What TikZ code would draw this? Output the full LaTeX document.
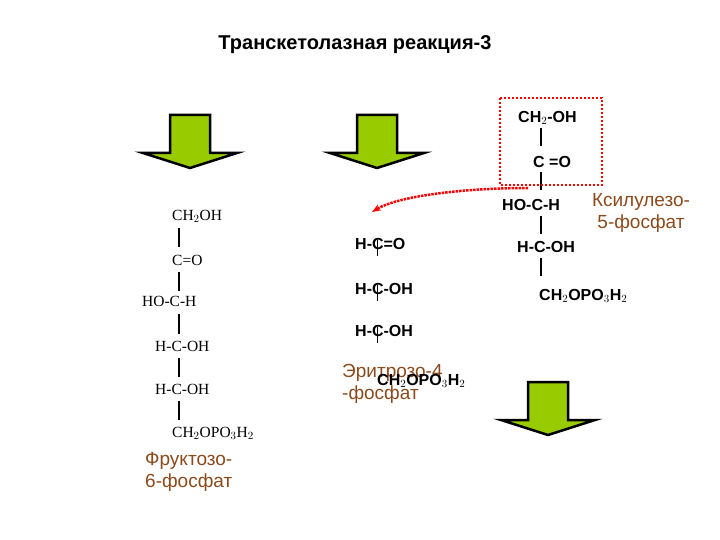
\documentclass[tikz,border=0pt]{standalone}
\usepackage{fontspec}
\usetikzlibrary{arrows.meta}
\setmainfont{Liberation Sans}
\newfontfamily\serif{Liberation Serif}
\definecolor{lime}{HTML}{99CC00}
\definecolor{nmcol}{HTML}{8B4A1C}
\begin{document}
\begin{tikzpicture}[x=1pt,y=-1pt,
  sf/.style={font=\fontsize{16}{18}\selectfont\bfseries,inner sep=0,anchor=west},
  lf/.style={font=\serif\fontsize{15.5}{18}\selectfont,inner sep=0,anchor=west},
  nm/.style={font=\fontsize{19}{22}\selectfont,text=nmcol,inner sep=0,align=left},
  bar/.style={line width=1.2pt},
  garrow/.style={fill=lime,draw=black,line width=2.5pt}]
\useasboundingbox (0,0) rectangle (720,540);
\node[font=\fontsize{20}{23}\selectfont\bfseries] (t) at (355,45) {Транскетолазная реакция-3};
% green arrows
\foreach \n/\cx/\ty in {a1/190/115,a2/377/115,a3/548/382}{
  \draw[garrow] (\cx-20,\ty) -- (\cx+20,\ty) -- (\cx+20,\ty+38) -- (\cx+47,\ty+38) -- (\cx,\ty+53) -- (\cx-47,\ty+38) -- (\cx-20,\ty+38) -- cycle;
}
% left column
\node[lf] (l1) at (172,216) {CH$_2$OH};
\node[lf] (l2) at (172,260) {C=O};
\node[lf] (l3) at (142,301) {HO-C-H};
\node[lf] (l4) at (155,346) {H-C-OH};
\node[lf] (l5) at (155,389) {H-C-OH};
\node[lf] (l6) at (172,433) {CH$_2$OPO$_3$H$_2$};
\foreach \a/\b in {228/247,272/291,314/334,358/377,401/420}{\draw[bar] (179,\a) -- (179,\b);}
\node[nm,anchor=north west] (fr) at (145,452) {Фруктозо-\\6-фосфат};
% middle
\node[sf] (m1) at (355,244) {H-C=O};
\node[sf] (m2) at (355,289) {H-C-OH};
\node[sf] (m3) at (355,331) {H-C-OH};
\foreach \y in {244,289,331}{\draw[line width=1pt] (377,\y-4) -- (377,\y+12);}
\node[nm,anchor=north west] (er) at (342,364) {Эритрозо-4\\-фосфат};
\node[sf] (m4) at (377,381) {CH$_2$OPO$_3$H$_2$};
% right
\node[sf] (r1) at (518,118) {CH$_2$-OH};
\node[sf] (r2) at (533,162) {C =O};
\node[sf] (r3) at (502,205) {HO-C-H};
\node[sf] (r4) at (517,247) {H-C-OH};
\node[sf] (r5) at (539,296) {CH$_2$OPO$_3$H$_2$};
\foreach \a/\b in {128/146,172/190,216/234,258/276}{\draw[bar] (541,\a) -- (541,\b);}
\node[nm,align=center] (xy) at (641,213) {Ксилулезо-\\5-фосфат};
\draw[red,dotted,line width=2pt] (500,98) rectangle (602,185);
\coordinate (s) at (528,188);
\coordinate (e) at (372,212);
\draw[red,densely dotted,line width=2.5pt,-{Stealth[length=9pt]}] (s) .. controls (470,188) and (400,195) .. (e);
\end{tikzpicture}
\end{document}
